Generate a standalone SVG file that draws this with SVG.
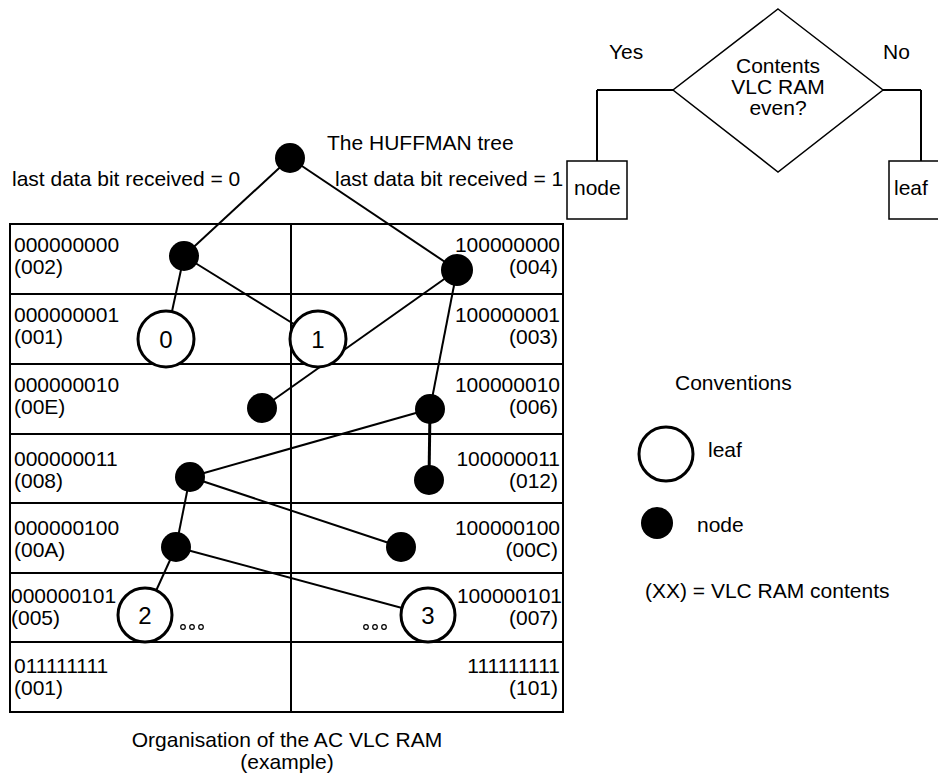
<svg xmlns="http://www.w3.org/2000/svg" width="938" height="775" viewBox="0 0 938 775">
<style>
text{font-family:"Liberation Sans",Arial,sans-serif;font-size:21px;fill:#000}
.r{text-anchor:end}
.c{text-anchor:middle}
.big{font-size:24px}
.grid{stroke:#000;stroke-width:2;fill:none}
.edge{stroke:#000;stroke-width:2;fill:none}
.node{fill:#000}
.leaf{fill:#fff;stroke:#000;stroke-width:3}
.dot{fill:#fff;stroke:#000;stroke-width:1.2}
.box{fill:#fff;stroke:#000;stroke-width:1.5}
</style>
<rect width="938" height="775" fill="#fff"/>

<g id="table">
<rect class="grid" x="10" y="224" width="553" height="488"/>
<line class="grid" x1="291" y1="224" x2="291" y2="712"/>
<line class="grid" x1="10" y1="294" x2="563" y2="294"/>
<line class="grid" x1="10" y1="364" x2="563" y2="364"/>
<line class="grid" x1="10" y1="434" x2="563" y2="434"/>
<line class="grid" x1="10" y1="503" x2="563" y2="503"/>
<line class="grid" x1="10" y1="573" x2="563" y2="573"/>
<line class="grid" x1="10" y1="642" x2="563" y2="642"/>
<text x="14" y="252">000000000</text><text x="14" y="274">(002)</text>
<text class="r" x="560" y="252">100000000</text><text class="r" x="558" y="274">(004)</text>
<text x="14" y="322">000000001</text><text x="14" y="344">(001)</text>
<text class="r" x="560" y="322">100000001</text><text class="r" x="558" y="344">(003)</text>
<text x="14" y="392">000000010</text><text x="14" y="414">(00E)</text>
<text class="r" x="560" y="392">100000010</text><text class="r" x="558" y="414">(006)</text>
<text x="14" y="466">000000011</text><text x="14" y="488">(008)</text>
<text class="r" x="560" y="466">100000011</text><text class="r" x="558" y="488">(012)</text>
<text x="14" y="535">000000100</text><text x="14" y="557">(00A)</text>
<text class="r" x="560" y="535">100000100</text><text class="r" x="558" y="557">(00C)</text>
<text x="11" y="603">000000101</text><text x="11" y="625">(005)</text>
<text class="r" x="562" y="603">100000101</text><text class="r" x="558" y="625">(007)</text>
<text x="14" y="673">011111111</text><text x="14" y="695">(001)</text>
<text class="r" x="560" y="673">111111111</text><text class="r" x="558" y="695">(101)</text>
</g>

<g id="labels">
<text x="327" y="150">The HUFFMAN tree</text>
<text x="12" y="186">last data bit received = 0</text>
<text x="335" y="186">last data bit received = 1</text>
<text class="c" x="287" y="747">Organisation of the AC VLC RAM</text>
<text class="c" x="287" y="769">(example)</text>
</g>

<g id="connectors">
<line class="edge" x1="290" y1="158" x2="184" y2="256"/>
<line class="edge" x1="290" y1="158" x2="457" y2="270"/>
<line class="edge" x1="184" y1="256" x2="166" y2="339"/>
<line class="edge" x1="184" y1="256" x2="318" y2="339"/>
<line class="edge" x1="457" y1="270" x2="262" y2="408"/>
<line class="edge" x1="457" y1="270" x2="430" y2="409"/>
<line class="edge" x1="430" y1="409" x2="429" y2="480" style="stroke-width:3"/>
<line class="edge" x1="430" y1="409" x2="190" y2="477"/>
<line class="edge" x1="190" y1="477" x2="176" y2="547"/>
<line class="edge" x1="190" y1="477" x2="401" y2="547"/>
<line class="edge" x1="176" y1="547" x2="145" y2="615"/>
<line class="edge" x1="176" y1="547" x2="428" y2="615"/>
<line class="edge" x1="673" y1="90" x2="597" y2="90"/>
<line class="edge" x1="597" y1="90" x2="597" y2="161"/>
<line class="edge" x1="883" y1="90" x2="921" y2="90"/>
<line class="edge" x1="921" y1="90" x2="921" y2="161"/>
</g>

<g id="n-root"><circle class="node" cx="290" cy="158" r="15"/></g>
<g id="n-002"><circle class="node" cx="184" cy="256" r="15"/></g>
<g id="n-004"><circle class="node" cx="457" cy="270" r="16"/></g>
<g id="n-00E"><circle class="node" cx="262" cy="408" r="15"/></g>
<g id="n-006"><circle class="node" cx="430" cy="409" r="15"/></g>
<g id="n-008"><circle class="node" cx="190" cy="477" r="15"/></g>
<g id="n-012"><circle class="node" cx="429" cy="480" r="15"/></g>
<g id="n-00A"><circle class="node" cx="176" cy="547" r="15"/></g>
<g id="n-00C"><circle class="node" cx="401" cy="547" r="15"/></g>
<g id="leaf-0"><circle class="leaf" cx="166" cy="339" r="28"/><text class="c big" x="166" y="348">0</text></g>
<g id="leaf-1"><circle class="leaf" cx="318" cy="339" r="28"/><text class="c big" x="318" y="348">1</text></g>
<g id="leaf-2"><circle class="leaf" cx="145" cy="615" r="27"/><text class="c big" x="145" y="624">2</text></g>
<g id="leaf-3"><circle class="leaf" cx="428" cy="615" r="27"/><text class="c big" x="428" y="624">3</text></g>
<g id="dots-left"><circle class="dot" cx="183" cy="627" r="2.3"/><circle class="dot" cx="192" cy="627" r="2.3"/><circle class="dot" cx="201" cy="627" r="2.3"/></g>
<g id="dots-right"><circle class="dot" cx="366" cy="627" r="2.3"/><circle class="dot" cx="375" cy="627" r="2.3"/><circle class="dot" cx="384" cy="627" r="2.3"/></g>

<g id="decision">
<polygon class="box" points="778,9 883,90 778,172 673,90"/>
<text class="c" x="778" y="73">Contents</text>
<text class="c" x="778" y="94">VLC RAM</text>
<text class="c" x="778" y="115">even?</text>
</g>
<text x="609" y="59">Yes</text>
<text x="883" y="59">No</text>
<g id="box-node"><rect class="box" x="567" y="161" width="60" height="58"/><text x="574" y="195">node</text></g>
<g id="box-leaf"><rect class="box" x="889" y="161" width="64" height="58"/><text x="894" y="195">leaf</text></g>

<g id="conventions">
<text x="675" y="390">Conventions</text>
<circle class="leaf" cx="666" cy="454" r="27"/>
<text x="708" y="457">leaf</text>
<circle class="node" cx="657" cy="523" r="16"/>
<text x="697" y="532">node</text>
<text x="645" y="598">(XX) = VLC RAM contents</text>
</g>
</svg>
